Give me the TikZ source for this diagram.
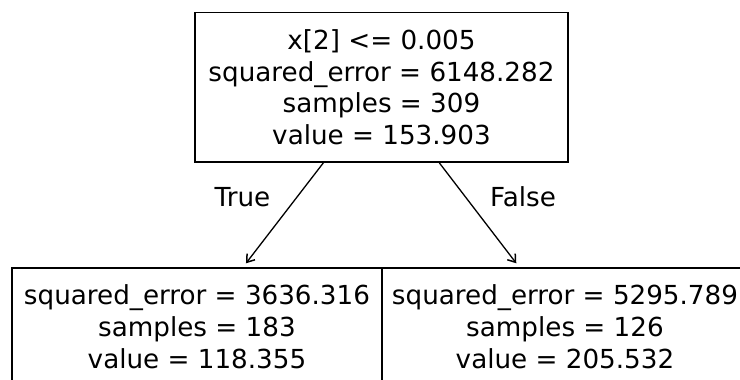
\documentclass[tikz,border=0pt]{standalone}
\usepackage{fontspec}
\setmainfont{DejaVu Sans}
\usetikzlibrary{arrows.meta}
\begin{document}
\begin{tikzpicture}[x=1pt,y=-1pt,
  treebox/.style={draw=black, line width=1.5pt, rectangle, inner sep=0pt,
    align=center, font=\fontsize{26.2}{31.8}\selectfont},
  edge/.style={draw=black, line width=1.3pt,
    -{Straight Barb[length=7pt,width=10pt,line width=1.5pt]}},
  edgelabel/.style={font=\fontsize{26.2}{31.8}\selectfont, inner sep=0pt}]
  \useasboundingbox (0,0) rectangle (740,380);
  \clip (0,0) rectangle (740,380);
  % root split
  \node[treebox, minimum width=373pt, minimum height=149.5pt] (root) at (381.5,87.3)
    {x[2] <= 0.005\\squared\_error = 6148.282\\samples = 309\\value = 153.903};
  % leaves (cut off at the lower edge)
  \node[treebox, minimum width=370pt, minimum height=118pt] (leafL) at (197,327)
    {squared\_error = 3636.316\\samples = 183\\value = 118.355};
  \node[treebox, minimum width=366pt, minimum height=118pt] (leafR) at (565,327)
    {squared\_error = 5295.789\\samples = 126\\value = 205.532};
  % split edges
  \draw[edge, shorten >=5pt] (root) -- (leafL);
  \draw[edge, shorten >=5pt] (root) -- (leafR);
  \node[edgelabel, anchor=base] (lblT) at (242.5,206.5) {True};
  \node[edgelabel, anchor=base] (lblF) at (523,206.5) {False};
\end{tikzpicture}
\end{document}
